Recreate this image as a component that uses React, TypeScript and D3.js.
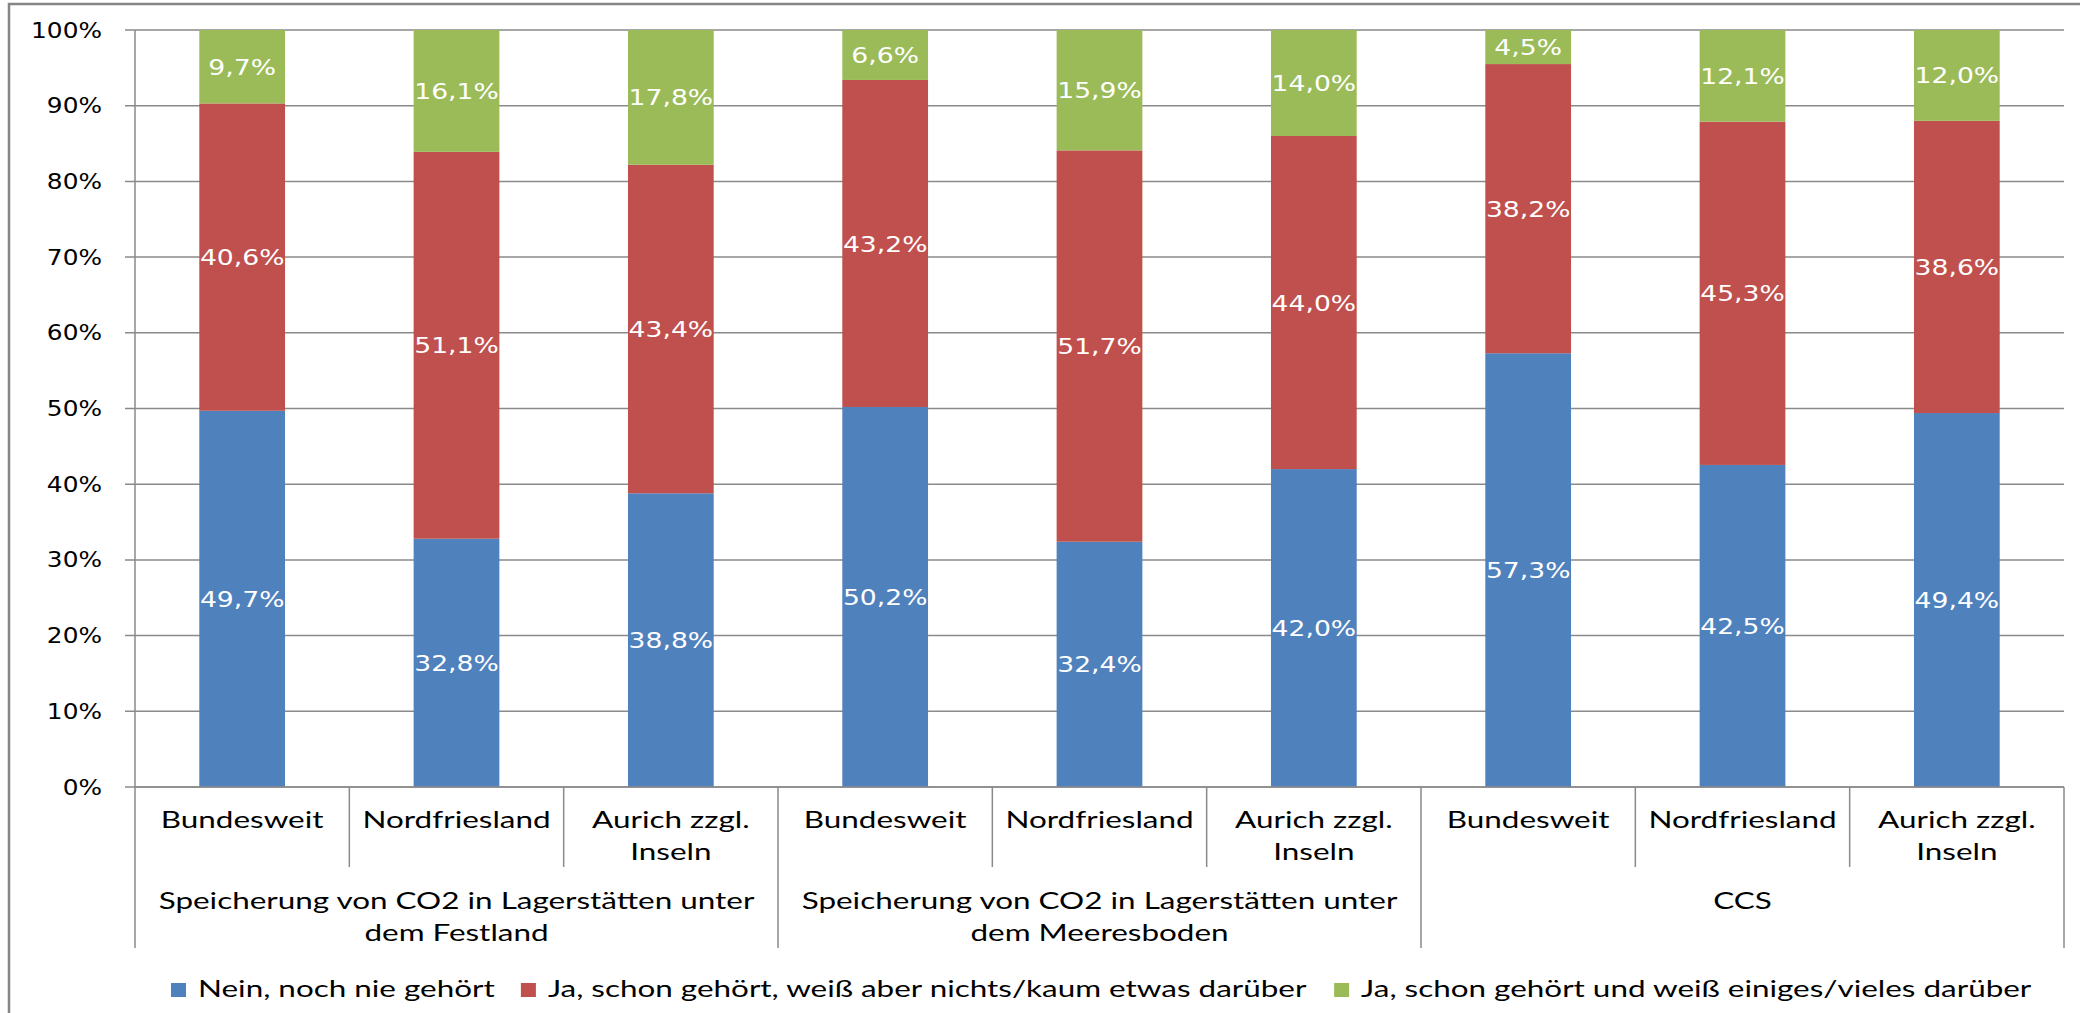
import React from "react";
import * as d3 from "d3";

// ---------- data ----------
const groups = [
  "Speicherung von CO2 in Lagerstätten unter dem Festland",
  "Speicherung von CO2 in Lagerstätten unter dem Meeresboden",
  "CCS",
];
const regions = ["Bundesweit", "Nordfriesland", "Aurich zzgl. Inseln"];
const seriesNames = [
  "Nein, noch nie gehört",
  "Ja, schon gehört, weiß aber nichts/kaum etwas darüber",
  "Ja, schon gehört und weiß einiges/vieles darüber",
];
const neinValues = [49.7, 32.8, 38.8, 50.2, 32.4, 42.0, 57.3, 42.5, 49.4];
const jaNichtsValues = [40.6, 51.1, 43.4, 43.2, 51.7, 44.0, 38.2, 45.3, 38.6];
const jaEinigesValues = [9.7, 16.1, 17.8, 6.6, 15.9, 14.0, 4.5, 12.1, 12.0];
const seriesColors = ["#4F81BD", "#C0504D", "#9BBB59"];
const yTicks = [0, 10, 20, 30, 40, 50, 60, 70, 80, 90, 100];

// ---------- layout / style ----------
const W = 2080;
const H = 1013;
const PLOT_L = 135;
const PLOT_R = 2064;
const PLOT_T = 30;
const PLOT_B = 787;
const GRID = "#8a8a8a";
const SANS_V = "'DejaVu Sans', Verdana, sans-serif";
const SANS_C = "Lato, 'Open Sans', sans-serif";
const SX_V = 1.21; // horizontal stretch of reference
const SX_C = 1.31;
const TICK_SIZE = 20.5;
const LABEL_SIZE = 22;
const CAT_SIZE = 24;

let ctx: CanvasRenderingContext2D | null = null;
function measure(text: string, size: number, family: string) {
  if (!ctx) ctx = document.createElement("canvas").getContext("2d");
  if (!ctx) return text.length * size * 0.5;
  ctx.font = `${size}px ${family}`;
  return ctx.measureText(text).width;
}

function wrap(text: string, maxW: number, size: number, family: string, sx: number) {
  const words = text.split(" ");
  const lines: string[] = [];
  let cur = "";
  for (const w of words) {
    const t = cur ? cur + " " + w : w;
    if (measure(t, size, family) * sx > maxW && cur) {
      lines.push(cur);
      cur = w;
    } else cur = t;
  }
  if (cur) lines.push(cur);
  return lines;
}

function SText(props: any) {
  const { x, y, sx, anchor = "middle", children, ...rest } = props;
  return (
    <text
      transform={`translate(${x},${y}) scale(${sx},1)`}
      textAnchor={anchor}
      {...rest}
    >
      {children}
    </text>
  );
}

export default function App() {
  const categories = groups.flatMap((g, gi) => regions.map((r, ri) => ({ g, gi, r, ri, idx: gi * regions.length + ri })));
  const rows = categories.map((c) => ({
    idx: c.idx,
    s0: neinValues[c.idx],
    s1: jaNichtsValues[c.idx],
    s2: jaEinigesValues[c.idx],
  }));
  const keys = ["s0", "s1", "s2"];
  const stacked = d3.stack<any>().keys(keys).offset(d3.stackOffsetExpand)(rows);

  const x = d3
    .scaleBand<number>()
    .domain(categories.map((c) => c.idx))
    .range([PLOT_L, PLOT_R])
    .paddingInner(0.6)
    .paddingOuter(0.3);
  const step = x.step();
  const y = d3.scaleLinear().domain([0, 1]).range([PLOT_B, PLOT_T]);

  const fmt = (v: number) => v.toFixed(1).replace(".", ",") + "%";
  const rawSeries = [neinValues, jaNichtsValues, jaEinigesValues];

  const catLeft = (i: number) => (x(i) as number) - step * 0.3;

  // legend layout
  const legendItems: { name: string; color: string; x: number }[] = [];
  let lx = 171;
  seriesNames.forEach((n, i) => {
    legendItems.push({ name: n, color: seriesColors[i], x: lx });
    lx += 27 + measure(n, CAT_SIZE, SANS_C) * SX_C + 26;
  });

  return (
    <svg width={W} height={H} style={{ position: "absolute", left: 0, top: 0, background: "#fff" }}>
      <rect x={9} y={4} width={2200} height={1200} fill="#fff" stroke="#858585" strokeWidth={2.5} />

      {/* gridlines */}
      {yTicks.map((t) => (
        <line key={t} x1={PLOT_L - 10} x2={PLOT_R} y1={y(t / 100)} y2={y(t / 100)} stroke={GRID} strokeWidth={1.5} />
      ))}
      {/* y axis line */}
      <line x1={PLOT_L} x2={PLOT_L} y1={PLOT_T} y2={PLOT_B} stroke={GRID} strokeWidth={1.5} />

      {/* y tick labels */}
      {yTicks.map((t) => (
        <SText
          key={t}
          x={102}
          y={y(t / 100) + 7.5}
          sx={SX_V}
          anchor="end"
          fontFamily={SANS_V}
          fontSize={TICK_SIZE}
          fill="#000"
        >
          {t + "%"}
        </SText>
      ))}

      {/* bars */}
      {stacked.map((s, si) => (
        <g key={si} fill={seriesColors[si]}>
          {s.map((d: any, i: number) => (
            <rect
              key={i}
              x={x(rows[i].idx)}
              width={x.bandwidth()}
              y={y(d[1])}
              height={y(d[0]) - y(d[1])}
            />
          ))}
        </g>
      ))}

      {/* data labels */}
      {stacked.map((s, si) =>
        s.map((d: any, i: number) => (
          <SText
            key={si + "-" + i}
            x={(x(rows[i].idx) as number) + x.bandwidth() / 2}
            y={y((d[0] + d[1]) / 2) + LABEL_SIZE * 0.365}
            sx={SX_V}
            fontFamily={SANS_V}
            fontSize={LABEL_SIZE}
            fill="#fff"
          >
            {fmt(rawSeries[si][i])}
          </SText>
        ))
      )}

      {/* category axis */}
      <line x1={PLOT_L} x2={PLOT_R} y1={PLOT_B} y2={PLOT_B} stroke={GRID} strokeWidth={1.5} />
      {categories.map((c) => {
        const xl = catLeft(c.idx);
        const isGroupStart = c.ri === 0;
        return (
          <line
            key={"t" + c.idx}
            x1={xl}
            x2={xl}
            y1={PLOT_B}
            y2={isGroupStart ? 948 : 867}
            stroke={GRID}
            strokeWidth={1.5}
          />
        );
      })}
      <line x1={PLOT_R} x2={PLOT_R} y1={PLOT_B} y2={948} stroke={GRID} strokeWidth={1.5} />

      {/* category labels */}
      {categories.map((c) => {
        const cx = catLeft(c.idx) + step / 2;
        const lines = wrap(c.r, step - 14, CAT_SIZE, SANS_C, SX_C);
        return lines.map((ln, li) => (
          <SText
            key={c.idx + "-" + li}
            x={cx}
            y={828 + li * 32}
            sx={SX_C}
            fontFamily={SANS_C}
            fontSize={CAT_SIZE}
            fill="#000"
          >
            {ln}
          </SText>
        ));
      })}

      {/* group labels */}
      {groups.map((g, gi) => {
        const x0 = catLeft(gi * regions.length);
        const gw = step * regions.length;
        const lines = wrap(g, gw - 20, CAT_SIZE, SANS_C, SX_C);
        return lines.map((ln, li) => (
          <SText
            key={gi + "-" + li}
            x={x0 + gw / 2}
            y={909 + li * 32}
            sx={SX_C}
            fontFamily={SANS_C}
            fontSize={CAT_SIZE}
            fill="#000"
          >
            {ln}
          </SText>
        ));
      })}

      {/* legend */}
      {legendItems.map((it, i) => (
        <g key={i}>
          <rect x={it.x} y={983} width={15} height={14} fill={it.color} />
          <SText
            x={it.x + 27}
            y={997}
            sx={SX_C}
            anchor="start"
            fontFamily={SANS_C}
            fontSize={CAT_SIZE}
            fill="#000"
          >
            {it.name}
          </SText>
        </g>
      ))}
    </svg>
  );
}
